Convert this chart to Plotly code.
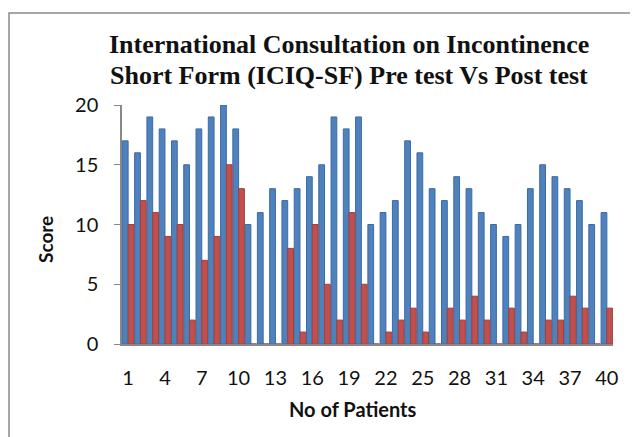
import plotly.graph_objects as go

patients = list(range(1, 41))
pre_test = [17, 16, 19, 18, 17, 15, 18, 19, 20, 18,
            10, 11, 13, 12, 13, 14, 15, 19, 18, 19,
            10, 11, 12, 17, 16, 13, 12, 14, 13, 11,
            10, 9, 10, 13, 15, 14, 13, 12, 10, 11]
post_test = [10, 12, 11, 9, 10, 2, 7, 9, 15, 13,
             0, 0, 0, 8, 1, 10, 5, 2, 11, 5,
             0, 1, 2, 3, 1, 0, 3, 2, 4, 2,
             0, 3, 1, 0, 2, 2, 4, 3, 0, 3]
x_ticks = list(range(1, 41, 3))
y_ticks = [0, 5, 10, 15, 20]
title_lines = ["International Consultation on Incontinence",
               "Short Form (ICIQ-SF) Pre test Vs Post test"]

# page offset (body margin) compensation
OFF = 8
W, H = 638 - OFF, 437 - OFF
L, R, T, B = 122 - OFF, 25, 105 - OFF, 93
pw, ph = W - L - R, H - T - B

def px(x):
    # x given in page pixels
    return (x - OFF - L) / pw

def py(y):
    return (H - B - (y - OFF)) / ph

fig = go.Figure()
fig.add_trace(go.Bar(x=patients, y=pre_test, name="Pre test",
                     marker=dict(color="#4F81BD", line=dict(color="#3B6BA5", width=1))))
fig.add_trace(go.Bar(x=patients, y=post_test, name="Post test",
                     marker=dict(color="#C0504D", line=dict(color="#A0403D", width=1))))

title_font = dict(family="Liberation Serif", size=26, color="#111", weight="bold")
fig.update_layout(
    width=W, height=H,
    margin=dict(l=L, r=R, t=T, b=B),
    paper_bgcolor="white", plot_bgcolor="white",
    barmode="group", bargap=0.06, bargroupgap=0,
    showlegend=False,
    annotations=[
        dict(text=title_lines[0], xref="paper", yref="paper", x=px(349), y=py(44),
             xanchor="center", yanchor="middle", showarrow=False, font=title_font),
        dict(text=title_lines[1], xref="paper", yref="paper", x=px(349), y=py(75),
             xanchor="center", yanchor="middle", showarrow=False, font=title_font),
        dict(text="Score", xref="paper", yref="paper", x=px(45), y=py(240),
             xanchor="center", yanchor="middle", showarrow=False, textangle=-90,
             font=dict(family="Lato", size=19, color="#111", weight="bold")),
        dict(text="No of Patients", xref="paper", yref="paper", x=px(353), y=py(409),
             xanchor="center", yanchor="middle", showarrow=False,
             font=dict(family="Lato", size=20, color="#111", weight="bold")),
    ],
    shapes=[
        dict(type="rect", xref="paper", yref="paper",
             x0=px(9), y0=py(437 + 20), x1=px(638 + 20), y1=py(13),
             line=dict(color="#8a8a8a", width=1.5), fillcolor="rgba(0,0,0,0)", layer="below"),
    ],
)
fig.update_xaxes(
    range=[0.5, 40.5], tickmode="array", tickvals=x_ticks, ticktext=[str(v) for v in x_ticks],
    showline=True, linecolor="#888", linewidth=1.5, ticks="", showgrid=False,
    ticklabelstandoff=15,
    tickfont=dict(family="Lato", size=20, color="#111"),
)
fig.update_yaxes(
    range=[0, 20], tickmode="array", tickvals=y_ticks,
    showline=True, linecolor="#888", linewidth=1.5, ticks="outside", ticklen=6, tickcolor="#888",
    showgrid=False, zeroline=False, ticklabelstandoff=12,
    tickfont=dict(family="Lato", size=20, color="#111"),
)

fig.write_html("out.html")
